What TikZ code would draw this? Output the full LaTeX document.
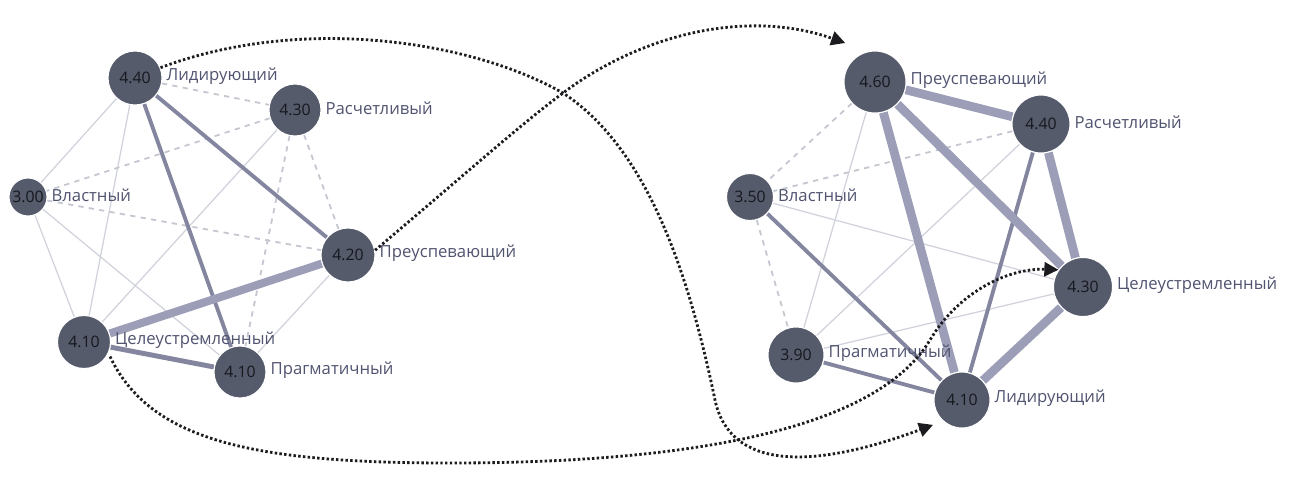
\documentclass[tikz,border=0pt]{standalone}
\usepackage{fontspec}
\setmainfont{Open Sans}
\usetikzlibrary{positioning,arrows.meta,backgrounds}
\definecolor{nodefill}{RGB}{86,91,108}
\definecolor{valtext}{RGB}{22,24,30}
\definecolor{lbltext}{RGB}{80,84,112}
\definecolor{weakc}{RGB}{208,210,220}
\definecolor{negc}{RGB}{196,198,208}
\definecolor{midc}{RGB}{132,134,160}
\definecolor{strongc}{RGB}{156,158,184}
\definecolor{flowc}{RGB}{28,28,32}

\begin{document}
\begin{tikzpicture}[x=0.02cm,y=-0.02cm,
    val/.style={circle,fill=nodefill,draw=white,line width=0.6pt,inner sep=0pt,text=valtext,font=\fontsize{9}{10}\selectfont},
    lbl/.style={inner sep=1pt,text=lbltext,font=\fontsize{9.5}{11}\selectfont,yshift=1pt},
    edgeweak/.style={weakc,line width=0.7pt},
    edgeneg/.style={negc,line width=1pt,dash pattern=on 3pt off 3pt},
    edgemid/.style={midc,line width=2.2pt},
    edgestrong/.style={strongc,line width=5pt},
    flow/.style={flowc,line width=1.6pt,dash pattern=on 1.4pt off 1.3pt,-{Triangle[length=8pt,width=8pt]}},
    node distance=0.04cm]
\useasboundingbox (0,0) rectangle (1296,485);

% left graph
\node[val,minimum size=1.08cm] (lLid) at (135,78) {4.40};
\node[val,minimum size=1.04cm] (lRas) at (295,110) {4.30};
\node[val,minimum size=0.76cm] (lVla) at (28,197) {3.00};
\node[val,minimum size=1.08cm] (lPre) at (348,255) {4.20};
\node[val,minimum size=1.06cm] (lTse) at (84,342) {4.10};
\node[val,minimum size=1.04cm] (lPra) at (240,372) {4.10};
\node[lbl,right=of lLid] (lLidT) {Лидирующий};
\node[lbl,right=of lRas] (lRasT) {Расчетливый};
\node[lbl,right=of lVla] (lVlaT) {Властный};
\node[lbl,right=of lPre] (lPreT) {Преуспевающий};
\node[lbl,right=of lTse] (lTseT) {Целеустремленный};
\node[lbl,right=of lPra] (lPraT) {Прагматичный};

% right graph
\node[val,minimum size=1.24cm] (rPre) at (875,82) {4.60};
\node[val,minimum size=1.16cm] (rRas) at (1041,124) {4.40};
\node[val,minimum size=0.94cm] (rVla) at (750,197) {3.50};
\node[val,minimum size=1.18cm] (rTse) at (1083,287) {4.30};
\node[val,minimum size=1.12cm] (rPra) at (796,355) {3.90};
\node[val,minimum size=1.12cm] (rLid) at (962,400) {4.10};
\node[lbl,right=of rPre] (rPreT) {Преуспевающий};
\node[lbl,right=of rRas] (rRasT) {Расчетливый};
\node[lbl,right=of rVla] (rVlaT) {Властный};
\node[lbl,right=of rTse] (rTseT) {Целеустремленный};
\node[lbl,right=of rPra] (rPraT) {Прагматичный};
\node[lbl,right=of rLid] (rLidT) {Лидирующий};

\begin{scope}[on background layer]
  \fill[white] (0,0) rectangle (1296,485);
  % left links
  \foreach \a/\b in {lLid/lVla,lLid/lTse,lRas/lTse,lVla/lTse,lVla/lPra,lPre/lPra} \draw[edgeweak] (\a) -- (\b);
  \foreach \a/\b in {lLid/lRas,lRas/lVla,lRas/lPre,lRas/lPra,lVla/lPre} \draw[edgeneg] (\a) -- (\b);
  \foreach \a/\b in {lLid/lPre,lLid/lPra} \draw[edgemid] (\a) -- (\b);
  \draw[edgemid,line width=2.8pt] (lTse) -- (lPra);
  \draw[edgestrong,line width=4.6pt] (lPre) -- (lTse);
  % right links
  \foreach \a/\b in {rPre/rPra,rRas/rPra,rVla/rTse,rTse/rPra} \draw[edgeweak] (\a) -- (\b);
  \foreach \a/\b in {rPre/rVla,rRas/rVla,rVla/rPra} \draw[edgeneg] (\a) -- (\b);
  \foreach \a/\b in {rRas/rLid,rVla/rLid,rPra/rLid} \draw[edgemid] (\a) -- (\b);
  \foreach \a/\b in {rPre/rRas,rPre/rTse,rPre/rLid,rRas/rTse,rTse/rLid} \draw[edgestrong] (\a) -- (\b);
\end{scope}

% shifts between the two graphs
\draw[flow,shorten >=6pt] (lLid.22) .. controls (300,15) and (470,40) .. (563,93)
  .. controls (650,150) and (690,280) .. (715,400)
  .. controls (730,470) and (812,470) .. (rLid.228);
\draw[flow,shorten >=14pt] (lPre.10) .. controls (470,170) and (520,125) .. (563,93)
  .. controls (640,35) and (746,8) .. (rPre.102);
\draw[flow,shorten <=2pt] (lTse.-25) .. controls (150,440) and (250,463) .. (450,463)
  .. controls (650,463) and (870,440) .. (930,340)
  .. controls (960,290) and (1010,268) .. (rTse.145);
\end{tikzpicture}
\end{document}
